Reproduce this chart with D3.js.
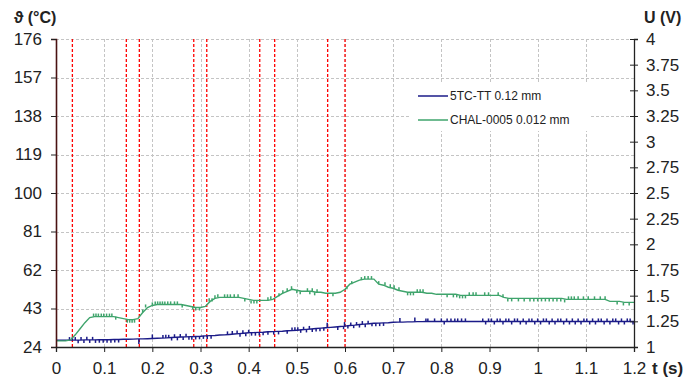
<!DOCTYPE html>
<html>
<head>
<meta charset="utf-8">
<script src="https://cdn.jsdelivr.net/npm/d3@7"></script>
<style>
  html, body { margin: 0; padding: 0; background: #fff; }
  svg { display: block; font-family: "Liberation Sans", Arial, sans-serif; }
</style>
</head>
<body>
<svg id="chart" width="686" height="383"></svg>
<script>
// Sample interval of the recorded traces (s)
const step = 0.01;

// Axis tick values
const timeTicks = [0, 0.1, 0.2, 0.3, 0.4, 0.5, 0.6, 0.7, 0.8, 0.9, 1, 1.1, 1.2];
const tempTicks = [24, 43, 62, 81, 100, 119, 138, 157, 176];
const voltTicks = [1, 1.25, 1.5, 1.75, 2, 2.25, 2.5, 2.75, 3, 3.25, 3.5, 3.75, 4];

// Series names
const seriesNames = ["5TC-TT 0.12 mm", "CHAL-0005 0.012 mm"];

// Thermocouple 5TC-TT 0.12 mm, temperature (°C) every 10 ms from 0 to 1.2 s
const tc5tc = [
  27.3, 27.3, 27.3, 27.4, 27.4, 27.4, 27.5, 27.5, 27.5, 27.6,
  27.6, 27.6, 27.7, 27.7, 27.8, 27.8, 27.9, 28, 28, 28.1,
  28.2, 28.3, 28.4, 28.5, 28.7, 28.8, 28.9, 29, 29.1, 29.2,
  29.3, 29.5, 29.6, 29.7, 29.9, 30, 30.2, 30.4, 30.6, 30.8,
  31, 31.1, 31.2, 31.3, 31.5, 31.6, 31.7, 31.8, 32, 32.1,
  32.3, 32.5, 32.7, 32.9, 33.1, 33.3, 33.5, 33.7, 33.9, 34.1,
  34.3, 34.6, 34.8, 35.1, 35.3, 35.5, 35.7, 35.8, 35.9, 36,
  36.2, 36.3, 36.3, 36.4, 36.4, 36.5, 36.5, 36.6, 36.6, 36.6,
  36.6, 36.6, 36.6, 36.6, 36.6, 36.6, 36.6, 36.6, 36.6, 36.6,
  36.6, 36.6, 36.6, 36.6, 36.6, 36.6, 36.6, 36.6, 36.6, 36.6,
  36.6, 36.6, 36.6, 36.6, 36.6, 36.6, 36.6, 36.6, 36.6, 36.6,
  36.6, 36.6, 36.6, 36.6, 36.6, 36.6, 36.6, 36.6, 36.6, 36.6,
  36.6
];

// Thermocouple CHAL-0005 0.012 mm, temperature (°C) every 10 ms from 0 to 1.2 s
const chal = [
  27, 27, 27, 27.5, 30, 33, 36, 38.5, 39, 39,
  39, 39, 39, 38.5, 38, 37.5, 37.5, 38, 41, 43.5,
  44.5, 45, 45, 45, 45, 45, 45, 44.5, 44, 43.5,
  43.5, 44, 46.5, 48, 48.5, 48.5, 48.5, 48.5, 48.5, 48,
  47.5, 47, 47, 47, 47, 47.5, 49, 50.5, 51.5, 52.5,
  52, 51.5, 51.5, 51.5, 51, 51, 50.5, 50.5, 50.5, 51,
  52.5, 55, 56, 57, 57.5, 57.5, 57.5, 55, 54.5, 53.5,
  53, 52, 51.5, 51, 51, 51, 51, 50.5, 50.5, 50,
  50, 50, 50, 50, 49.5, 49.5, 49.5, 49.5, 49.5, 49.5,
  49.5, 49.5, 49.5, 48.5, 48, 48, 48, 48, 48, 48,
  48, 48, 48, 48, 48, 48, 47.5, 47.5, 47.5, 47.5,
  47.5, 47.5, 47.5, 47.5, 47.5, 46.5, 46.5, 46.5, 46, 46,
  46
];

// Single-sample glitches of each trace: [time (s), jump (°C)]
const tc5tcGlitches = [
  [0.028, 1.5], [0.034, 1.5], [0.040, 1.5], [0.046, -1.5], [0.052, 1.5], [0.058, -1.5],
  [0.064, 1.5], [0.070, -1.5], [0.076, 1.5], [0.082, -1.5], [0.090, -1.5], [0.098, -1.5],
  [0.106, -1.5], [0.114, -1.5], [0.122, -1.5], [0.130, -1.5], [0.172, -2.5], [0.200, 2],
  [0.222, 1.5], [0.228, 1.5], [0.234, 1.5], [0.240, -1.5], [0.246, 1.5], [0.252, -1.5],
  [0.258, 1.5], [0.264, -1.5], [0.270, 1.5], [0.276, -1.5], [0.282, -1.5], [0.290, -1.5],
  [0.298, -1.5], [0.306, -1.5], [0.314, -1.5], [0.322, -1.5], [0.356, 1.5], [0.366, 1.5],
  [0.376, 1.5], [0.382, -1.5], [0.388, 1.5], [0.394, -1.5], [0.400, 1.5], [0.406, -1.5],
  [0.414, -1.5], [0.422, -1.5], [0.430, -1.5], [0.440, -1.5], [0.452, -1.5], [0.462, -1.5],
  [0.480, -1.5], [0.490, 1.5], [0.496, 1.5], [0.502, 1.5], [0.508, -1.5], [0.514, 1.5],
  [0.520, -1.5], [0.526, 1.5], [0.532, -1.5], [0.540, -1.5], [0.548, -1.5], [0.556, -1.5],
  [0.563, 2.5], [0.585, -1.5], [0.597, -1.5], [0.599, 2], [0.606, -1.5], [0.612, 1.5],
  [0.618, -1.5], [0.624, 1.5], [0.630, -1.5], [0.636, 1.5], [0.642, -1.5], [0.648, 1.5],
  [0.656, -1.5], [0.664, -1.5], [0.672, -1.5], [0.680, -1.5], [0.714, 2], [0.745, 2],
  [0.768, 1.5], [0.772, 1.5], [0.786, 1.5], [0.800, 1.5], [0.806, -1.5], [0.812, 1.5],
  [0.820, 1.5], [0.828, 1.5], [0.834, 1.5], [0.842, 1.5], [0.850, 1.5],
  [0.886, 1.5], [0.892, -1.5], [0.898, 1.5], [0.904, 1.5], [0.910, -1.5], [0.916, 1.5],
  [0.922, 1.5], [0.928, -1.5], [0.934, 1.5], [0.940, 1.5], [0.946, -1.5], [0.952, 1.5],
  [0.958, 1.5], [0.964, -1.5], [0.970, 1.5], [0.976, -1.5], [0.982, 1.5], [0.988, 1.5],
  [0.994, -1.5], [1.000, 1.5], [1.006, -1.5], [1.012, 1.5], [1.018, 1.5], [1.024, -1.5],
  [1.030, 1.5], [1.036, -1.5], [1.042, 1.5], [1.048, 1.5], [1.054, -1.5], [1.060, 1.5],
  [1.066, -1.5], [1.072, 1.5], [1.078, -1.5], [1.084, 1.5], [1.090, -1.5], [1.096, 1.5],
  [1.102, 1.5], [1.108, -1.5], [1.114, 1.5], [1.120, -1.5], [1.126, 1.5], [1.132, 1.5],
  [1.138, -1.5], [1.144, 1.5], [1.150, -1.5], [1.156, 1.5], [1.162, 1.5], [1.168, -1.5],
  [1.174, 1.5], [1.180, -1.5], [1.186, 1.5], [1.192, 1.5], [1.198, -1.5]
];

const chalGlitches = [
  [0.078, 1.5], [0.083, 1.5], [0.088, 1.5], [0.094, 1.5], [0.099, 1.5], [0.105, 1.5],
  [0.111, 1.5], [0.116, 1.5], [0.124, -1.5], [0.148, -1.5], [0.153, -1.5], [0.158, -1.5],
  [0.163, -1.5], [0.180, 1.5], [0.186, 1.5], [0.200, 1.5], [0.206, 1.5], [0.211, 1.5],
  [0.216, 1.5], [0.221, 1.5], [0.226, 1.5], [0.232, 1.5], [0.238, 1.5], [0.246, 1.5],
  [0.252, 1.5], [0.262, -1.5], [0.284, -1.5], [0.290, -1.5], [0.298, -1.5], [0.318, 1.5],
  [0.324, 1.5], [0.330, 1.5], [0.336, 1.5], [0.350, 1.5], [0.356, 1.5], [0.362, 1.5],
  [0.370, 1.5], [0.378, 1.5], [0.392, -1.5], [0.405, -1.5], [0.411, -1.5], [0.417, -1.5],
  [0.440, 1.5], [0.446, 1.5], [0.463, 1.5], [0.471, 1.5], [0.480, 1.5], [0.489, 1.5],
  [0.500, -1.5], [0.507, -1.5], [0.522, 1.5], [0.527, -1.5], [0.532, 1.5], [0.537, -1.5],
  [0.542, 1.5], [0.575, -1.5], [0.604, 1.5], [0.614, 1.5], [0.634, 1.5], [0.641, 1.5],
  [0.648, 1.5], [0.655, 1.5], [0.670, 1.5], [0.683, 1.5], [0.694, 1.5], [0.702, 1.5],
  [0.712, 1.5], [0.730, -1.5], [0.736, -1.5], [0.742, -1.5], [0.750, 1.5], [0.756, 1.5],
  [0.762, 1.5], [0.812, -1.5], [0.825, -1.5], [0.832, -1.5], [0.838, -1.5], [0.844, -1.5],
  [0.850, -1.5], [0.858, 1.5], [0.866, 1.5], [0.872, 1.5], [0.890, 1.5], [0.898, 1.5],
  [0.918, 1.5], [0.928, 1.5], [0.938, -1.5], [0.946, -1.5], [0.960, -1.5], [0.972, -1.5],
  [0.984, -1.5], [0.992, -1.5], [1.000, -1.5], [1.008, -1.5], [1.016, -1.5], [1.024, -1.5],
  [1.032, -1.5], [1.040, -1.5], [1.048, -1.5], [1.056, -1.5], [1.064, 1.5], [1.070, 1.5],
  [1.076, 1.5], [1.084, 1.5], [1.095, 1.5], [1.105, 1.5], [1.118, 1.5], [1.130, 1.5],
  [1.140, 1.5], [1.165, -1.5], [1.178, -1.5], [1.190, -1.5]
];

// Trigger instants (s), drawn as red dashed markers
const markers = [0.034, 0.146, 0.173, 0.286, 0.313, 0.423, 0.454, 0.564, 0.6];

const colors = { blue: "#1b1b88", green: "#3fa46c", red: "#ff0000", grid: "#c4c4c4" };

const W = 686, H = 383;
const m = { left: 56, right: 52, top: 39, bottom: 36 };

const svg = d3.select("#chart");

const x = d3.scaleLinear().domain([0, 1.2]).range([m.left, W - m.right]);
const yT = d3.scaleLinear().domain([24, 176]).range([H - m.bottom, m.top]);
const yU = d3.scaleLinear().domain([1, 4]).range([H - m.bottom, m.top]);

// Grid
const grid = svg.append("g").attr("stroke", colors.grid).attr("stroke-dasharray", "3,2").attr("stroke-width", 1);
grid.selectAll("line.h").data(tempTicks.slice(1)).join("line")
  .attr("x1", m.left).attr("x2", W - m.right)
  .attr("y1", d => Math.round(yT(d)) + 0.5).attr("y2", d => Math.round(yT(d)) + 0.5);
grid.selectAll("line.v").data(timeTicks.slice(1, -1)).join("line")
  .attr("y1", m.top).attr("y2", H - m.bottom)
  .attr("x1", d => Math.round(x(d)) + 0.5).attr("x2", d => Math.round(x(d)) + 0.5);

// Legend background covers the grid behind it
svg.append("rect").attr("x", 410).attr("y", 83).attr("width", 180).attr("height", 48).attr("fill", "#fff");

// Trigger markers
svg.append("g").selectAll("line").data(markers).join("line")
  .attr("x1", d => x(d)).attr("x2", d => x(d))
  .attr("y1", m.top).attr("y2", H - m.bottom)
  .attr("stroke", colors.red).attr("stroke-width", 1.3).attr("stroke-dasharray", "3,2");

// Traces
const times = d3.range(tc5tc.length).map(i => +(i * step).toFixed(2));
const line = d3.line().x((d, i) => x(times[i])).y(d => yT(d));

function baseAt(values, t) { return values[Math.min(values.length - 1, Math.round(t / step))]; }

function drawTrace(values, glitches, color) {
  svg.append("path").datum(values).attr("d", line)
    .attr("fill", "none").attr("stroke", color).attr("stroke-width", 1.4);
  svg.append("g").selectAll("line").data(glitches).join("line")
    .attr("x1", d => x(d[0])).attr("x2", d => x(d[0]))
    .attr("y1", d => yT(baseAt(values, d[0])))
    .attr("y2", d => yT(baseAt(values, d[0]) + d[1]))
    .attr("stroke", color).attr("stroke-width", 1.5);
}
drawTrace(tc5tc, tc5tcGlitches, colors.blue);
drawTrace(chal, chalGlitches, colors.green);

// Axes
const fs = "17px";
const axL = svg.append("g").attr("transform", `translate(${m.left},0)`)
  .call(d3.axisLeft(yT).tickValues(tempTicks).tickSize(5).tickPadding(9).tickFormat(d3.format("d")));
const axR = svg.append("g").attr("transform", `translate(${W - m.right},0)`)
  .call(d3.axisRight(yU).tickValues(voltTicks).tickSize(4).tickPadding(8).tickFormat(d => String(d)));
const axB = svg.append("g").attr("transform", `translate(0,${H - m.bottom})`)
  .call(d3.axisBottom(x).tickValues(timeTicks).tickSize(5).tickPadding(10).tickFormat(d => String(d)));

// right-axis ticks reach into the plot as well
axR.selectAll(".tick line").attr("x1", -4);

[axL, axR, axB].forEach(a => {
  a.selectAll("text").attr("font-size", fs).attr("fill", "#222").attr("font-family", "Liberation Sans, Arial, sans-serif");
  a.selectAll("line").attr("stroke", "#222");
  a.select(".domain").attr("stroke", "#222").attr("stroke-width", 1.3);
});
axL.select(".domain").attr("stroke", "#4a1212").attr("stroke-width", 1.6);

// Axis titles
svg.append("text").attr("x", 14).attr("y", 23).attr("font-size", "16px").attr("font-weight", "bold").attr("fill", "#222").text("ϑ (°C)");
svg.append("text").attr("x", 644).attr("y", 23).attr("font-size", "16px").attr("font-weight", "bold").attr("fill", "#222").text("U (V)");
svg.append("text").attr("x", 652).attr("y", 374).attr("font-size", "17px").attr("font-weight", "bold").attr("fill", "#222").text("t (s)");

// Legend
const legend = svg.append("g");
[colors.blue, colors.green].forEach((c, i) => {
  const ly = 96 + i * 24;
  legend.append("line").attr("x1", 418).attr("x2", 448).attr("y1", ly).attr("y2", ly)
    .attr("stroke", c).attr("stroke-width", 1.5);
  legend.append("text").attr("x", 450).attr("y", ly + 4).attr("font-size", "12px")
    .attr("fill", "#222").text(seriesNames[i]);
});
</script>
</body>
</html>
